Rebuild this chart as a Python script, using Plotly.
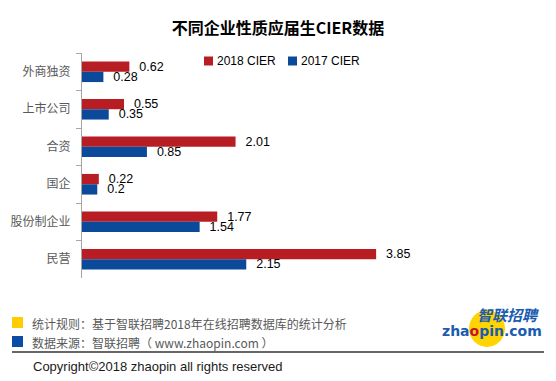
import plotly.graph_objects as go

categories = ["外商独资", "上市公司", "合资", "国企", "股份制企业", "民营"]
cier_2018 = [0.62, 0.55, 2.01, 0.22, 1.77, 3.85]
cier_2017 = [0.28, 0.35, 0.85, 0.2, 1.54, 2.15]
series_names = ["2018 CIER", "2017 CIER"]

RED = "#B81D24"
BLUE = "#0B4A9B"
W, H = 556, 381
L, R, T, B = 82, 464, 53, 278

def px(x):
    return (x - L) / (R - L)

def py(y):
    return (B - y) / (B - T)

LAT = "Liberation Sans, Noto Sans CJK SC, sans-serif"
CJK = "Noto Sans CJK SC, sans-serif"

fig = go.Figure()
for name, vals, col in [(series_names[0], cier_2018, RED), (series_names[1], cier_2017, BLUE)]:
    fig.add_trace(go.Bar(
        y=categories, x=vals, orientation="h", name=name,
        marker=dict(color=col, line=dict(width=0)),
        text=[str(v) for v in vals],
        texttemplate="\u00a0\u00a0%{text}",
        textposition="outside", constraintext="none", cliponaxis=False,
        textfont=dict(family=LAT, size=12.5, color="#000000"),
        showlegend=False,
    ))

fig.update_layout(
    width=W, height=H,
    margin=dict(l=L, r=W - R, t=T, b=H - B, pad=0, autoexpand=False),
    paper_bgcolor="white", plot_bgcolor="white",
    barmode="group", bargap=0.45, bargroupgap=0,
    title=dict(text="<b>不同企业性质应届生CIER数据</b>", x=0.5, xanchor="center",
               y=1 - 28 / H, yanchor="middle",
               font=dict(family=CJK, size=16, color="#000000")),
    xaxis=dict(range=[0, 5], visible=False, showgrid=False, zeroline=False, automargin=False),
    yaxis=dict(type="category", range=[5.5, -0.5], showgrid=False, zeroline=False,
               automargin=False,
               showline=True, linecolor="#A6A6A6", linewidth=1,
               ticks="outside", tickson="boundaries", ticklen=5, tickcolor="#A6A6A6",
               ticklabelstandoff=8,
               tickfont=dict(family=CJK, size=12, color="#595959")),
)

shapes = []
annotations = []

# manual legend
for sx, label, col in [(204, series_names[0], RED), (288, series_names[1], BLUE)]:
    shapes.append(dict(type="rect", xref="paper", yref="paper",
                       x0=px(sx), x1=px(sx + 9), y0=py(65.5), y1=py(56.5),
                       fillcolor=col, line=dict(width=0)))
    annotations.append(dict(text=label, xref="paper", yref="paper", x=px(sx + 11), y=py(61),
                            xanchor="left", yanchor="middle", showarrow=False,
                            font=dict(family=LAT, size=12, color="#000000")))

# footer
shapes.append(dict(type="rect", xref="paper", yref="paper", x0=px(12), x1=px(23),
                   y0=py(328), y1=py(317), fillcolor="#FFCC00", line=dict(width=0)))
shapes.append(dict(type="rect", xref="paper", yref="paper", x0=px(12), x1=px(23),
                   y0=py(347), y1=py(336), fillcolor="#0A4DA2", line=dict(width=0)))
shapes.append(dict(type="line", xref="paper", yref="paper", x0=px(12), x1=px(544),
                   y0=py(352), y1=py(352), line=dict(color="#333333", width=1.5)))
annotations.append(dict(text="统计规则：基于智联招聘2018年在线招聘数据库的统计分析",
                        xref="paper", yref="paper", x=px(30), y=py(323),
                        xanchor="left", yanchor="middle", showarrow=False,
                        font=dict(family=CJK, size=12, color="#595959")))
annotations.append(dict(text="数据来源：智联招聘（ www.zhaopin.com ）",
                        xref="paper", yref="paper", x=px(30), y=py(342),
                        xanchor="left", yanchor="middle", showarrow=False,
                        font=dict(family=CJK, size=12, color="#595959")))
annotations.append(dict(text="Copyright©2018 zhaopin all rights reserved",
                        xref="paper", yref="paper", x=px(31), y=py(366),
                        xanchor="left", yanchor="middle", showarrow=False,
                        font=dict(family=LAT, size=13, color="#1A1A1A")))

# logo
shapes.append(dict(type="circle", xref="paper", yref="paper", x0=px(469), x1=px(505),
                   y0=py(347), y1=py(310), fillcolor="#FFD400", line=dict(width=0)))
annotations.append(dict(text="<b><i>智联招聘</i></b>", xref="paper", yref="paper",
                        x=px(541), y=py(314), xanchor="right", yanchor="middle", showarrow=False,
                        font=dict(family=CJK, size=15, color="#1B5CB0")))
annotations.append(dict(text="<b>zha<span style='color:#C8102E'>o</span>pin.com</b>",
                        xref="paper", yref="paper", x=px(440), y=py(331),
                        xanchor="left", yanchor="middle", showarrow=False,
                        font=dict(family="DejaVu Sans, sans-serif", size=14, color="#1B5CB0")))

fig.update_layout(shapes=shapes, annotations=annotations)
fig.write_html("out.html", config={"displayModeBar": False},
               post_script="document.body.style.margin='0';")
